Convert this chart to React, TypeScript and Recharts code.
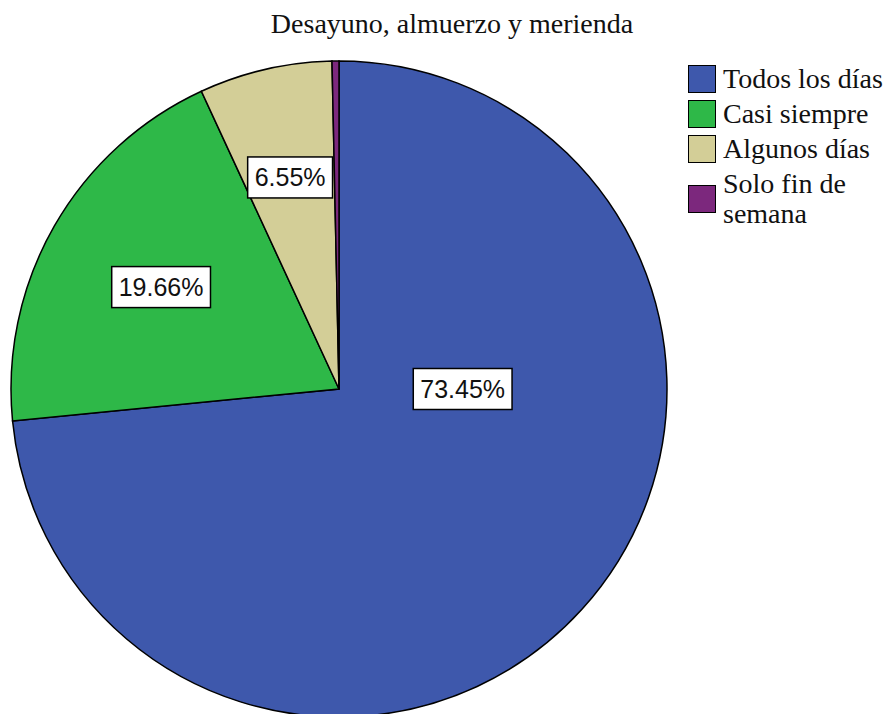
import { PieChart, Pie, Cell } from 'recharts';

const CATEGORIES = ['Todos los días', 'Casi siempre', 'Algunos días', 'Solo fin de semana'];
const PERCENTS = [73.45, 19.66, 6.55, 0.34];
const COLORS = ['#3e58ac', '#2eb848', '#d3ce97', '#7c287d'];
const TITLE = 'Desayuno, almuerzo y merienda';

const data = CATEGORIES.map((name, i) => ({ name, value: PERCENTS[i] }));

const SERIF = '"Liberation Serif", "Times New Roman", serif';
const SANS = '"Liberation Sans", Arial, sans-serif';
const LABEL_SIZE = 25;

// rough Arial advance widths, in em
const charWidth = (c: string) => (c === '%' ? 0.889 : c === '.' ? 0.278 : 0.556);
const textWidth = (s: string) => s.split('').reduce((w, c) => w + charWidth(c), 0) * LABEL_SIZE;

const RAD = Math.PI / 180;

const renderLabel = (props: any) => {
  const { cx, cy, midAngle, outerRadius, percent, value, index } = props;
  if (percent < 0.01) return null;
  let ang = midAngle;
  let dist: number;
  if (percent > 0.5) {
    // big slice: label sits on the horizontal line through the centre
    ang = 0;
    dist = outerRadius * 0.377;
  } else {
    // centroid of the sector
    const half = Math.PI * percent;
    dist = (2 * outerRadius * Math.sin(half)) / (3 * half);
  }
  const x = cx + dist * Math.cos(ang * RAD);
  const y = cy - dist * Math.sin(ang * RAD);
  const txt = `${Number(value).toFixed(2)}%`;
  const w = textWidth(txt) + 14;
  const h = 41;
  return (
    <g key={`lbl-${index}`}>
      <rect x={x - w / 2} y={y - h / 2} width={w} height={h} fill="#fff" stroke="#000" strokeWidth={1.5} />
      <text x={x} y={y + 9} textAnchor="middle" fontFamily={SANS} fontSize={LABEL_SIZE} fill="#111">
        {txt}
      </text>
    </g>
  );
};

export default function App() {
  return (
    <div style={{ position: 'absolute', left: 0, top: 0, width: 892, height: 714, background: '#fff', overflow: 'hidden' }}>
      <div
        style={{
          position: 'absolute', left: 252, top: 8, width: 400, textAlign: 'center',
          fontFamily: SERIF, fontSize: 28, color: '#111', whiteSpace: 'nowrap',
        }}
      >
        {TITLE}
      </div>

      <PieChart width={892} height={714} margin={{ top: 0, right: 0, bottom: 0, left: 0 }}>
        <Pie
          data={data}
          dataKey="value"
          nameKey="name"
          cx={339}
          cy={389}
          outerRadius={328}
          startAngle={90}
          endAngle={-270}
          stroke="#000"
          strokeWidth={1.5}
          label={renderLabel}
          labelLine={false}
          isAnimationActive={false}
        >
          {data.map((d, i) => (
            <Cell key={d.name} fill={COLORS[i]} />
          ))}
        </Pie>
      </PieChart>

      <div style={{ position: 'absolute', left: 688, top: 64, width: 204, fontFamily: SERIF, fontSize: 28, color: '#111' }}>
        {CATEGORIES.map((name, i) => (
          <div key={name} style={{ display: 'flex', alignItems: 'center', marginBottom: 5 }}>
            <div
              style={{
                width: 26, height: 26, background: COLORS[i], border: '1.5px solid #000',
                flexShrink: 0, marginRight: 7,
              }}
            />
            <div style={{ lineHeight: '30px', width: 168 }}>{name}</div>
          </div>
        ))}
      </div>
    </div>
  );
}
